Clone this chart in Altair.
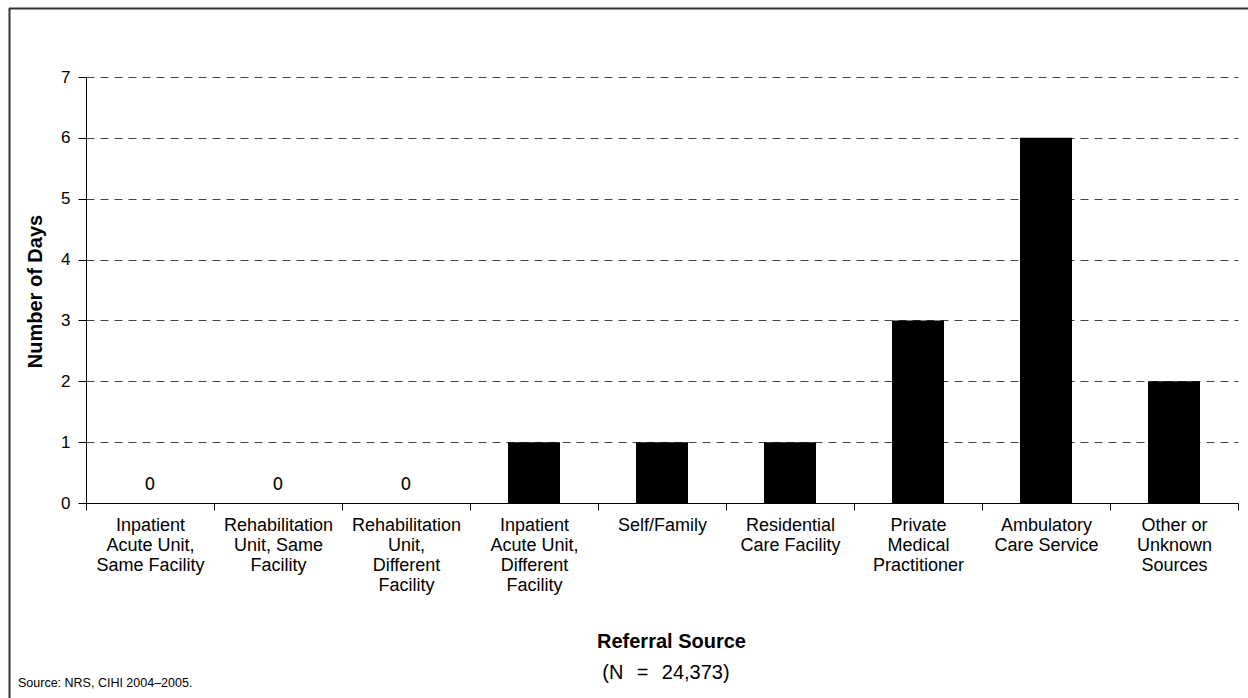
import altair as alt
import pandas as pd

# Referral sources (line breaks mark where each axis label wraps)
referral_sources = [
    "Inpatient\nAcute Unit,\nSame Facility",
    "Rehabilitation\nUnit, Same\nFacility",
    "Rehabilitation\nUnit,\nDifferent\nFacility",
    "Inpatient\nAcute Unit,\nDifferent\nFacility",
    "Self/Family",
    "Residential\nCare Facility",
    "Private\nMedical\nPractitioner",
    "Ambulatory\nCare Service",
    "Other or\nUnknown\nSources",
]
# Number of days, per referral source
days = [0, 0, 0, 1, 1, 1, 3, 6, 2]
y_ticks = [0, 1, 2, 3, 4, 5, 6, 7]

sample_note = "(N\u2002\u2006=\u2002\u200624,373)"
source_note = "Source: NRS, CIHI 2004\u20132005."

df = pd.DataFrame({"source": referral_sources, "days": days})
one_row = pd.DataFrame({"k": [0]})

PLOT_W = 1152
PLOT_H = 426
LEFT, TOP = 86, 77
TOTAL_W, TOTAL_H = 1248, 698

x_enc = alt.X(
    "source:N",
    sort=None,
    scale=alt.Scale(paddingInner=0, paddingOuter=0),
    axis=alt.Axis(
        title="Referral Source",
        labelExpr="split(datum.label, '\\n')",
        labelAngle=0,
        labelFont="Liberation Sans",
        labelFontSize=18,
        labelLineHeight=20,
        labelColor="black",
        labelPadding=6,
        tickBand="extent",
        tickSize=7,
        tickColor="black",
        domainColor="black",
        titleFont="Liberation Sans",
        titleFontSize=20,
        titleFontWeight="bold",
        titleColor="black",
        titleX=585,
        titleY=138,
        titleBaseline="middle",
        titleAlign="center",
    ),
)

y_enc = alt.Y(
    "days:Q",
    scale=alt.Scale(domain=[0, 7], nice=False),
    axis=alt.Axis(
        title="Number of Days",
        values=y_ticks,
        format="d",
        labelFont="Liberation Sans",
        labelFontSize=17,
        labelColor="black",
        labelPadding=8,
        tickSize=8,
        tickColor="black",
        domainColor="black",
        grid=True,
        gridColor="#444444",
        gridDash=[8, 6],
        gridWidth=1,
        titleFont="Liberation Sans",
        titleFontSize=20,
        titleFontWeight="bold",
        titleColor="black",
        titleX=-51,
        titleY=214,
        titleAngle=-90,
        titleBaseline="middle",
        titleAlign="center",
    ),
)

bars = alt.Chart(df).mark_bar(color="black", size=52).encode(x=x_enc, y=y_enc)

zero_labels = (
    alt.Chart(df)
    .transform_filter("datum.days == 0")
    .mark_text(font="DejaVu Sans", fontSize=17, color="black", dy=-18, baseline="middle")
    .encode(x=alt.X("source:N", sort=None), y=alt.Y("days:Q"), text=alt.Text("days:Q"))
)

n_text = (
    alt.Chart(one_row)
    .mark_text(font="Liberation Sans", fontSize=20, color="black", align="center", baseline="middle")
    .encode(x=alt.value(580), y=alt.value(596), text=alt.value(sample_note))
)

src_text = (
    alt.Chart(one_row)
    .mark_text(font="Liberation Sans", fontSize=12.5, color="black", align="left", baseline="middle")
    .encode(x=alt.value(18 - LEFT), y=alt.value(683 - TOP), text=alt.value(source_note))
)

# Frame lines along the left and top edges of the figure
frame_left = (
    alt.Chart(one_row)
    .mark_rule(color="#333333", strokeWidth=2)
    .encode(x=alt.value(9.5 - LEFT), y=alt.value(8 - TOP), y2=alt.value(TOTAL_H - TOP))
)
frame_top = (
    alt.Chart(one_row)
    .mark_rule(color="#333333", strokeWidth=2)
    .encode(x=alt.value(9 - LEFT), x2=alt.value(TOTAL_W - LEFT), y=alt.value(8.5 - TOP))
)

chart = (
    alt.layer(bars, zero_labels, n_text, src_text, frame_left, frame_top)
    .properties(
        width=PLOT_W,
        height=PLOT_H,
        autosize=alt.AutoSizeParams(type="none"),
        padding={
            "left": LEFT,
            "top": TOP,
            "right": TOTAL_W - LEFT - PLOT_W,
            "bottom": TOTAL_H - TOP - PLOT_H,
        },
        background="white",
    )
    .configure_view(strokeWidth=0)
)

chart.save("out.html", embed_options={"renderer": "svg", "actions": False})
